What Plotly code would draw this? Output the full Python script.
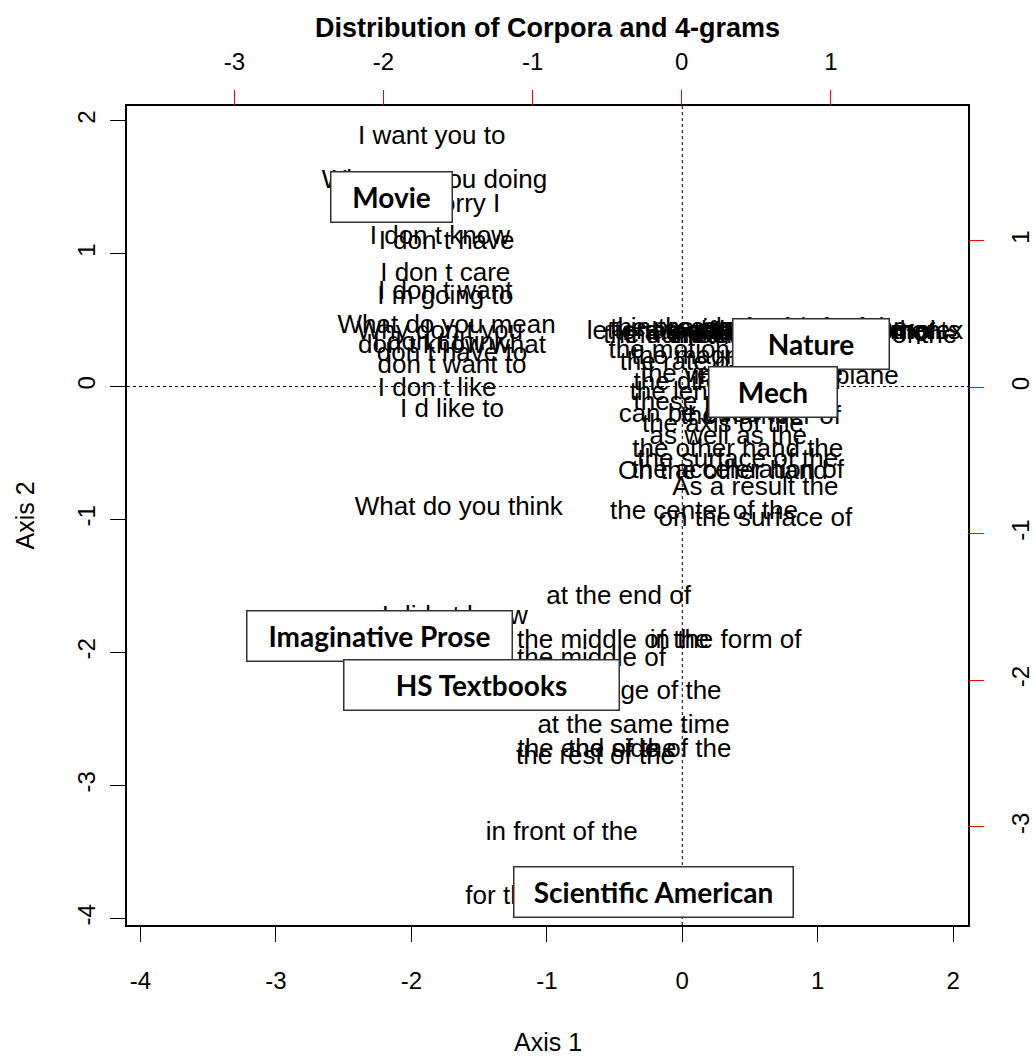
import plotly.graph_objects as go

# ---- 4-gram (row) coordinates on Axis 1 / Axis 2 ----
ngram_labels = [
    # Movie-like cluster
    "I want you to", "What are you doing", "I m sorry I", "I don t know", "I don t have",
    "I don t care", "I don t want", "I m going to", "What do you mean", "Why don t you",
    "I don t think", "don t know what", "don t have to", "don t want to", "I don t like",
    "I d like to", "What do you think",
    # Imaginative prose / textbooks / SciAm cluster
    "at the end of", "I didn t know", "the middle of the", "in the form of", "the middle of",
    "the edge of the", "at the same time", "the end of the", "the side of the", "the rest of the",
    "in front of the", "for the first time",
    # Nature / Mech cluster
    "letters to the editor", "of the complex", "the presence of", "in the presence of",
    "as a function of", "the effect of the", "in the case of", "the number of the",
    "is shown in Fig", "the structure of the", "the formation of", "of the elements",
    "in the absence of", "the ratio of the", "a function of the", "the results of the",
    "the order of", "the motion of the", "the magnitude of", "the rate of the",
    "in the same plane", "the velocity of the", "the direction of", "the length of the",
    "these results are", "can be used to", "the number of", "the axis of the",
    "as well as the", "the other hand the", "the surface of the", "On the other hand",
    "the acceleration of", "As a result the", "the center of the", "on the surface of",
]
ngram_axis1 = [
    -1.85, -1.83, -1.77, -1.79, -1.74,
    -1.75, -1.75, -1.75, -1.74, -1.79,
    -1.79, -1.70, -1.70, -1.70, -1.81,
    -1.70, -1.65,
    -0.47, -1.68, -0.51, 0.32, -0.67,
    -0.35, -0.36, -0.63, -0.24, -0.64,
    -0.89, -0.94,
    0.09, 1.45, 0.13, 0.28,
    0.43, 0.58, 0.72, 0.17,
    0.87, 1.02, 1.20, 1.40,
    0.35, 0.80, 0.98, 1.32,
    0.06, 0.17, 0.34, 0.13,
    0.84, 0.44, 0.27, 0.30,
    0.35, 0.16, 0.58, 0.30,
    0.34, 0.41, 0.41, 0.30,
    0.41, 0.54, 0.16, 0.54,
]
ngram_axis2 = [
    1.87, 1.54, 1.36, 1.12, 1.08,
    0.84, 0.71, 0.67, 0.45, 0.41,
    0.32, 0.30, 0.24, 0.15, -0.02,
    -0.18, -0.92,
    -1.59, -1.74, -1.92, -1.92, -2.05,
    -2.30, -2.56, -2.74, -2.74, -2.79,
    -3.36, -3.84,
    0.41, 0.41, 0.43, 0.40,
    0.41, 0.38, 0.42, 0.38,
    0.40, 0.41, 0.39, 0.41,
    0.43, 0.37, 0.43, 0.38,
    0.38, 0.26, 0.22, 0.17,
    0.07, 0.08, 0.02, -0.05,
    -0.13, -0.22, -0.23, -0.29,
    -0.38, -0.48, -0.56, -0.65,
    -0.64, -0.77, -0.95, -1.00,
]

# ---- corpus (column) coordinates on the secondary (red) axes ----
corpus_labels = ["Movie", "Nature", "Mech", "Imaginative Prose", "HS Textbooks", "Scientific American"]
corpus_axis1 = [-1.946, 0.866, 0.611, -2.027, -1.342, -0.188]
corpus_axis2 = [1.297, 0.294, -0.034, -1.700, -2.034, -3.447]
corpus_box_w = [120, 155, 127, 264, 274, 278]

# tick values and labels (R style hyphen minus)
x_ticks = [-4, -3, -2, -1, 0, 1, 2]
x_ticktext = ["-4", "-3", "-2", "-1", "0", "1", "2"]
y_ticks = [-4, -3, -2, -1, 0, 1, 2]
y_ticktext = ["-4", "-3", "-2", "-1", "0", "1", "2"]
x2_ticks = [-3, -2, -1, 0, 1]
x2_ticktext = ["-3", "-2", "-1", "0", "1"]
y2_ticks = [-3, -2, -1, 0, 1]
y2_ticktext = ["-3", "-2", "-1", "0", "1"]

TXT = "Liberation Sans, Arial, sans-serif"

fig = go.Figure()
fig.add_trace(go.Scatter(
    x=ngram_axis1, y=ngram_axis2, mode="text", text=ngram_labels,
    textposition="middle center",
    textfont=dict(family=TXT, size=26, color="black"),
    hoverinfo="skip", showlegend=False, cliponaxis=False,
))
fig.add_trace(go.Scatter(
    x=corpus_axis1, y=corpus_axis2, mode="markers", xaxis="x2", yaxis="y2",
    marker=dict(opacity=0), hoverinfo="skip", showlegend=False,
))

for lab, cx, cy, w in zip(corpus_labels, corpus_axis1, corpus_axis2, corpus_box_w):
    fig.add_annotation(
        x=cx, y=cy, xref="x2", yref="y2", text="<b>%s</b>" % lab, showarrow=False,
        font=dict(family="Lato, Open Sans, sans-serif", size=28, color="black"),
        bgcolor="white", bordercolor="#333333", borderwidth=1.5, borderpad=0,
        width=w, height=49,
    )

fig.add_shape(type="line", xref="x", yref="paper", x0=0, x1=0, y0=0, y1=1,
              line=dict(color="black", width=1, dash="dot"), layer="below")
fig.add_shape(type="line", xref="paper", yref="y", x0=0, x1=1, y0=0, y1=0,
              line=dict(color="black", width=1, dash="dot"), layer="below")

fig.add_annotation(x=0.5, y=1.095, xref="paper", yref="paper", showarrow=False,
                   xanchor="center", yanchor="middle",
                   text="<b>Distribution of Corpora and 4-grams</b>",
                   font=dict(family=TXT, size=27, color="black"))
fig.add_annotation(x=0.5, y=-0.1425, xref="paper", yref="paper", showarrow=False,
                   xanchor="center", yanchor="middle",
                   text="Axis 1", font=dict(family=TXT, size=25, color="black"))
fig.add_annotation(x=-0.1213, y=0.5, xref="paper", yref="paper", showarrow=False,
                   xanchor="center", yanchor="middle",
                   text="Axis 2", textangle=-90, font=dict(family=TXT, size=25, color="black"))

tickfont = dict(family=TXT, size=24, color="black")
fig.update_layout(
    width=1035, height=1057, autosize=False,
    margin=dict(l=127, r=67, t=106, b=132, pad=0),
    plot_bgcolor="white", paper_bgcolor="white", showlegend=False,
    xaxis=dict(range=[-4.10, 2.11], tickvals=x_ticks, ticktext=x_ticktext,
               ticks="outside", ticklen=15,
               tickcolor="black", tickwidth=1, showgrid=False, zeroline=False,
               showline=True, mirror=True, linecolor="black", linewidth=1.5,
               tickfont=tickfont, ticklabelstandoff=18, automargin=False),
    yaxis=dict(range=[-4.05, 2.11], tickvals=y_ticks, ticktext=y_ticktext,
               ticks="outside", ticklen=15,
               tickcolor="black", tickwidth=1, showgrid=False, zeroline=False,
               showline=True, mirror=True, linecolor="black", linewidth=1.5,
               tickfont=tickfont, tickangle=-90, ticklabelstandoff=6, automargin=False),
    xaxis2=dict(overlaying="x", side="top", range=[-3.72, 1.92], tickvals=x2_ticks,
                ticktext=x2_ticktext,
                ticks="outside", ticklen=15, tickcolor="red", tickwidth=1,
                showgrid=False, zeroline=False, showline=False,
                tickfont=tickfont, ticklabelstandoff=10, automargin=False),
    yaxis2=dict(overlaying="y", side="right", range=[-3.67, 1.918], tickvals=y2_ticks,
                ticktext=y2_ticktext,
                ticks="outside", ticklen=15, tickcolor="red", tickwidth=1,
                showgrid=False, zeroline=False, showline=False,
                tickfont=tickfont, tickangle=-90, ticklabelstandoff=16, automargin=False),
)

fig.write_html("out.html", config={"displayModeBar": False},
               post_script="document.body.style.margin='0';document.body.style.overflow='hidden';")
